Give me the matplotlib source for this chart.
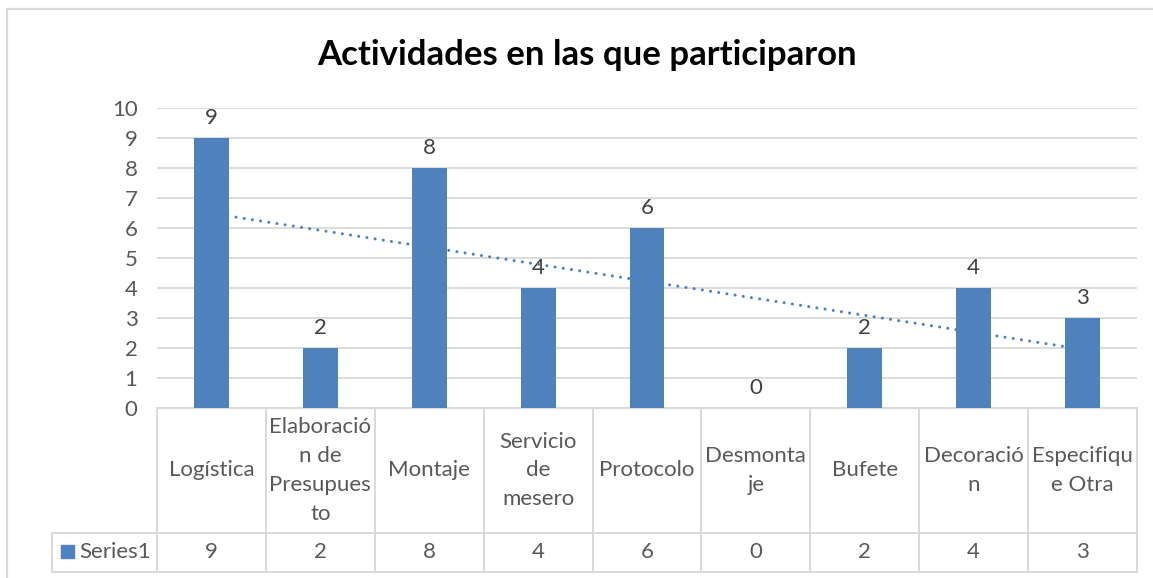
import matplotlib
matplotlib.use('Agg')

import matplotlib.pyplot as plt
import matplotlib.transforms as mtransforms
from matplotlib.patches import Rectangle
import numpy as np

title = 'Actividades en las que participaron'
categories = ['Logística', 'Elaboració\nn de\nPresupues\nto', 'Montaje',
              'Servicio\nde\nmesero', 'Protocolo', 'Desmonta\nje', 'Bufete',
              'Decoració\nn', 'Especifiqu\ne Otra']
values = [9, 2, 8, 4, 6, 0, 2, 4, 3]
series_name = 'Series1'
y_ticks = list(range(0, 11))

W, H = 1153, 578
BLUE = '#4F81BD'
GRID = '#D9D9D9'
TXT = '#595959'
FS = 16

plt.rcParams['font.family'] = ['Lato', 'DejaVu Sans']

fig = plt.figure(figsize=(W / 100, H / 100), dpi=100)


def fy(y):
    # pixel row (from top) to figure fraction
    return 1 - y / H


def fx(x):
    return x / W


# chart border (right and bottom edges fall outside the picture)
fig.patches.append(Rectangle((fx(7), fy(1000)), 2, fy(9) - fy(1000),
                             transform=fig.transFigure, fill=False,
                             edgecolor=GRID, linewidth=1.6))

ax = fig.add_axes([fx(157), fy(408), fx(1137) - fx(157), fy(108) - fy(408)])
x = np.arange(len(values))
ax.bar(x, values, width=0.32, color=BLUE, zorder=3)

# linear trend line
coef = np.polyfit(x, values, 1)
ax.plot(x, np.polyval(coef, x), color=BLUE, linewidth=2.2,
        linestyle=(0, (0.01, 2.7)), dash_capstyle='round', zorder=4)

for xi, v in zip(x, values):
    ax.annotate(str(v), (xi, v), xytext=(0, 7), textcoords='offset points',
                ha='center', va='bottom', fontsize=FS, color='#404040')

ax.set_xlim(-0.5, len(values) - 0.5)
ax.set_ylim(0, 10)
ax.set_yticks(y_ticks)
ax.tick_params(axis='y', length=0, pad=14, labelsize=FS, labelcolor=TXT)
ax.set_xticks([])
ax.grid(axis='y', color=GRID, linewidth=1.3, zorder=0)
for s in ax.spines.values():
    s.set_visible(False)

fig.text(0.509, fy(55), title, ha='center', va='center', fontsize=25,
         fontweight='bold', color='black')

# data table under the axis
tr = mtransforms.blended_transform_factory(ax.transData, fig.transFigure)
y_top, y_mid, y_bot = 408, 533, 572
n = len(values)
line_kw = dict(color=GRID, linewidth=1.4, clip_on=False)
ax.plot([-0.5, n - 0.5], [fy(y_top)] * 2, transform=tr, **line_kw)
ax.plot([-0.5, n - 0.5], [fy(y_bot)] * 2, transform=tr, **line_kw)
ax.plot([-0.5, n - 0.5], [fy(y_mid)] * 2, transform=tr, **line_kw)
for i in range(n + 1):
    ax.plot([i - 0.5, i - 0.5], [fy(y_top), fy(y_bot)], transform=tr, **line_kw)
# series label cell
for xs, ys in [([52, 157], [y_mid, y_mid]), ([52, 157], [y_bot, y_bot]),
               ([52, 52], [y_mid, y_bot])]:
    fig.lines.append(plt.Line2D([fx(v) for v in xs], [fy(v) for v in ys],
                                transform=fig.transFigure, color=GRID,
                                linewidth=1.4))

for i, (c, v) in enumerate(zip(categories, values)):
    ax.text(i, fy((y_top + y_mid) / 2), c, transform=tr, ha='center',
            va='center', fontsize=FS, color=TXT, linespacing=1.55)
    ax.text(i, fy((y_mid + y_bot) / 2), str(v), transform=tr, ha='center',
            va='center', fontsize=FS, color=TXT)

fig.patches.append(Rectangle((fx(61), fy(558)), fx(74) - fx(61), fy(545) - fy(558),
                             transform=fig.transFigure, color=BLUE))
fig.text(fx(79), fy(552), series_name, ha='left', va='center', fontsize=FS, color=TXT)

fig.savefig('out.png', dpi=100)
